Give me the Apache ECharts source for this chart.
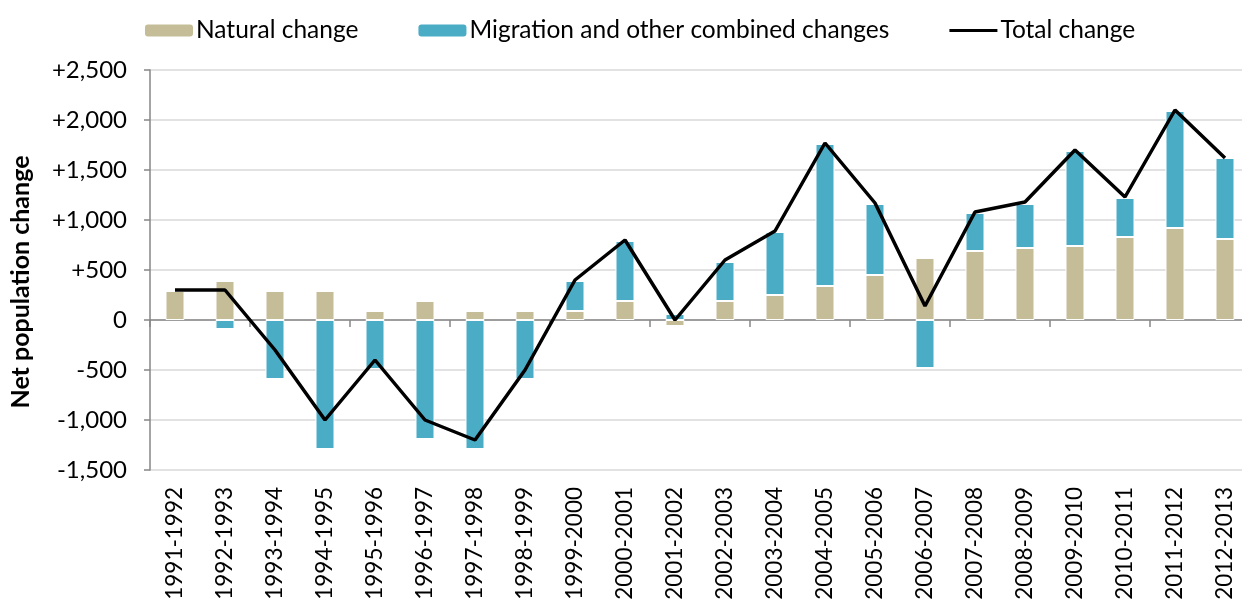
<!DOCTYPE html>
<html>
<head>
<meta charset="utf-8">
<script src="https://cdn.jsdelivr.net/npm/echarts@6/dist/echarts.min.js"></script>
<style>
  html, body { margin: 0; padding: 0; background: #fff; }
  #chart { width: 1242px; height: 601px; }
</style>
</head>
<body>
<div id="chart"></div>
<script>
var years = ['1991-1992', '1992-1993', '1993-1994', '1994-1995', '1995-1996', '1996-1997',
    '1997-1998', '1998-1999', '1999-2000', '2000-2001', '2001-2002', '2002-2003',
    '2003-2004', '2004-2005', '2005-2006', '2006-2007', '2007-2008', '2008-2009',
    '2009-2010', '2010-2011', '2011-2012', '2012-2013'];
var naturalChange = [290, 390, 290, 290, 90, 190, 90, 90, 90, 190, -60, 190,
    250, 340, 450, 620, 690, 720, 740, 830, 920, 810];
var migrationChange = [0, -90, -590, -1290, -490, -1190, -1290, -590, 300, 600, 60, 390,
    630, 1420, 710, -480, 380, 440, 950, 390, 1170, 810];
var totalChange = [300, 300, -300, -1000, -400, -1000, -1200, -500, 400, 800, 0, 600,
    890, 1770, 1170, 140, 1080, 1180, 1700, 1230, 2100, 1620];

var fontName = 'Lato';
var chart = echarts.init(document.getElementById('chart'));

function signed(v) {
    if (v === 0) return '0';
    var s = Math.abs(v).toString().replace(/\B(?=(\d{3})+(?!\d))/g, ',');
    return (v > 0 ? '+' : '-') + s;
}

var option = {
    animation: false,
    textStyle: { fontFamily: fontName },
    legend: {
        left: 140,
        top: 13,
        itemWidth: 48,
        itemHeight: 12,
        itemGap: 60,
        textStyle: { fontSize: 24.5, color: '#000', fontFamily: fontName, padding: [0, 0, 0, -2] },
        data: [
            { name: 'Natural change', itemStyle: { borderWidth: 0 } },
            { name: 'Migration and other combined changes', itemStyle: { borderWidth: 0 } },
            { name: 'Total change', icon: 'path://M0,0H48V3H0Z', itemStyle: { color: '#000' } }
        ]
    },
    grid: { left: 150, right: -8, top: 70, bottom: 131, outerBoundsMode: 'none', containLabel: false },
    xAxis: [{
        type: 'category',
        data: years,
        position: 'bottom',
        axisLine: { show: false, onZero: false },
        axisTick: { show: false },
        axisLabel: { rotate: 90, margin: 17, fontSize: 22.5, color: '#000', fontFamily: fontName }
    }, {
        type: 'category',
        data: years,
        position: 'bottom',
        axisLine: { show: true, onZero: true, lineStyle: { color: '#868686', width: 1.5 } },
        axisTick: { show: true, length: 7, lineStyle: { color: '#868686', width: 1.5 } },
        axisLabel: { show: false }
    }],
    yAxis: {
        type: 'value',
        min: -1500,
        max: 2500,
        interval: 500,
        name: 'Net population change',
        nameLocation: 'middle',
        nameGap: 117,
        nameTextStyle: {
            fontSize: 25, fontWeight: 'bold', color: '#000', fontFamily: fontName,
            padding: [0, 24, 0, 0]
        },
        axisLine: { show: true, lineStyle: { color: '#868686', width: 1.5 } },
        axisTick: { show: true, length: 6, lineStyle: { color: '#868686', width: 1.5 } },
        axisLabel: { margin: 23, fontSize: 24, color: '#000', fontFamily: fontName, formatter: signed },
        splitLine: { lineStyle: { color: '#d9d9d9', width: 1.5 } }
    },
    series: [{
        name: 'Natural change',
        type: 'bar',
        stack: 'change',
        barWidth: 19,
        itemStyle: { color: '#c4bd97', borderColor: '#fff', borderWidth: 1 },
        data: naturalChange
    }, {
        name: 'Migration and other combined changes',
        type: 'bar',
        stack: 'change',
        barWidth: 19,
        itemStyle: { color: '#4bacc6', borderColor: '#fff', borderWidth: 1 },
        data: migrationChange
    }, {
        name: 'Total change',
        type: 'line',
        symbol: 'none',
        lineStyle: { color: '#000', width: 3.5 },
        itemStyle: { color: '#000' },
        data: totalChange
    }]
};

chart.setOption(option);
</script>
</body>
</html>
